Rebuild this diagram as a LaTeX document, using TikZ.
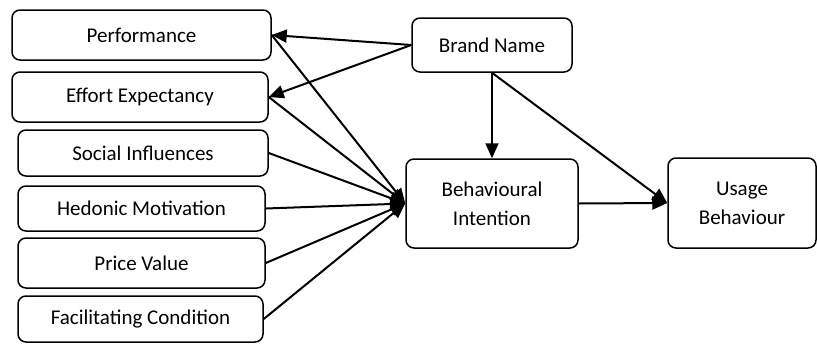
\documentclass[tikz,border=0pt]{standalone}
\usepackage{fontspec}
\setmainfont{Carlito}
\usetikzlibrary{arrows.meta}
\begin{document}
\begin{tikzpicture}[x=1pt,y=-1pt,
  box/.style={draw, line width=1.5pt, rounded corners=8pt, align=center,
    font=\fontsize{21}{29}\selectfont, inner sep=0pt},
  conn/.style={line width=2pt, -{Triangle[length=15pt,width=13pt]}}]
\useasboundingbox (0,0) rectangle (817,343);
\node[box, minimum width=259pt, minimum height=50pt] (perf) at (141.5,35) {Performance};
\node[box, minimum width=256pt, minimum height=50pt] (effort) at (140,97) {Effort Expectancy};
\node[box, minimum width=250pt, minimum height=46pt] (social) at (143,153) {Social Influences};
\node[box, minimum width=247pt, minimum height=45pt] (hedonic) at (141.5,208.5) {Hedonic Motivation};
\node[box, minimum width=247pt, minimum height=50pt] (price) at (141.5,263) {Price Value};
\node[box, minimum width=245pt, minimum height=46pt] (facil) at (140.5,319) {Facilitating Condition};
\node[box, minimum width=160pt, minimum height=54pt] (brand) at (492,45) {Brand Name};
\node[box, minimum width=172pt, minimum height=89pt] (bi) at (492,203.5) {Behavioural\\Intention};
\node[box, minimum width=148pt, minimum height=90pt] (usage) at (742,203) {Usage\\Behaviour};
\draw[conn] (brand.west) -- (perf.east);
\draw[conn] (brand.west) -- (effort.east);
\draw[conn] (perf.east) -- (bi.west);
\draw[conn] (effort.east) -- (bi.west);
\draw[conn] (social.east) -- (bi.west);
\draw[conn] (hedonic.east) -- (bi.west);
\draw[conn] (price.east) -- (bi.west);
\draw[conn] (facil.east) -- (bi.west);
\draw[conn] (brand.south) -- (bi.north);
\draw[conn] (brand.south) -- (usage.west);
\draw[conn] (bi.east) -- (usage.west);
\end{tikzpicture}
\end{document}
